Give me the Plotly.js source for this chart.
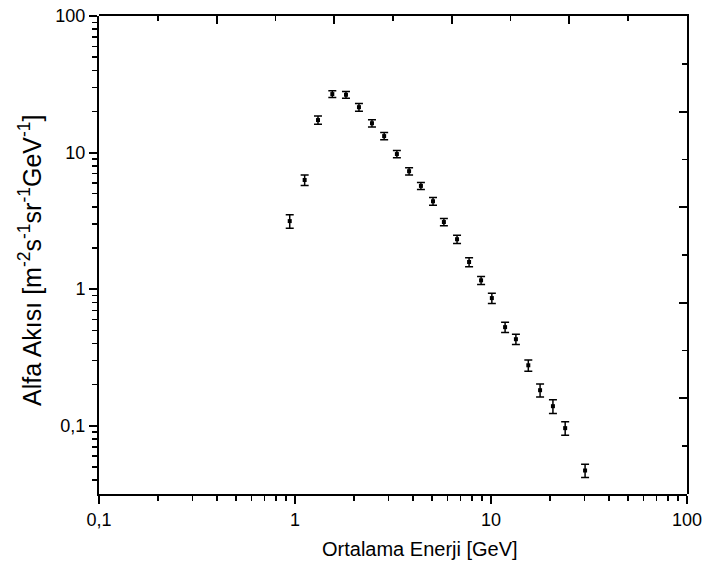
<!DOCTYPE html>
<html>
<head>
<meta charset="utf-8">
<script src="https://cdn.plot.ly/plotly-3.0.1.min.js"></script>
<style>html,body{margin:0;padding:0;background:#fff;}#chart{width:704px;height:571px;}</style>
</head>
<body>
<div id="chart"></div>
<script>
// Mean energy [GeV]
var energy = [0.94, 1.12, 1.31, 1.55, 1.82, 2.12, 2.47, 2.85, 3.31, 3.82, 4.39, 5.06, 5.75, 6.71, 7.73, 8.9, 10.1, 11.8, 13.4, 15.5, 17.8, 20.7, 23.9, 30.2];
// Alpha flux [m^-2 s^-1 sr^-1 GeV^-1]
var flux = [3.15, 6.3, 17.3, 26.8, 26.5, 21.5, 16.4, 13.2, 9.75, 7.3, 5.7, 4.4, 3.1, 2.32, 1.58, 1.16, 0.86, 0.527, 0.43, 0.277, 0.182, 0.139, 0.096, 0.047];
// Flux uncertainty
var fluxErr = [0.36, 0.55, 1.2, 1.5, 1.5, 1.4, 1.0, 0.8, 0.6, 0.44, 0.34, 0.28, 0.19, 0.16, 0.12, 0.08, 0.075, 0.046, 0.037, 0.026, 0.02, 0.016, 0.011, 0.0053];

var xTickVals = [0.1, 1, 10, 100];
var xTickText = ['0,1', '1', '10', '100'];
var yTickVals = [0.1, 1, 10, 100];
var yTickText = ['0,1', '1', '10', '100'];

var font = 'Liberation Sans, Arial, sans-serif';

var traces = [
  {
    x: energy, y: flux, type: 'scatter', mode: 'markers',
    marker: {symbol: 'square', size: 4, color: '#000'},
    error_y: {type: 'data', array: fluxErr, visible: true, color: '#000', thickness: 1.5, width: 4},
    showlegend: false, hoverinfo: 'x+y'
  },
  // empty helper trace so the frame axes (top / right) get drawn
  {x: [], y: [], xaxis: 'x2', yaxis: 'y2', type: 'scatter', mode: 'markers', showlegend: false}
];

var layout = {
  width: 704, height: 571,
  margin: {l: 99, r: 17, t: 16, b: 77},
  paper_bgcolor: '#fff', plot_bgcolor: 'rgba(0,0,0,0)',
  separators: ',.',
  font: {family: font, color: '#000'},
  showlegend: false,
  xaxis: {
    type: 'log', range: [-1, 2],
    tickmode: 'array', tickvals: xTickVals, ticktext: xTickText,
    ticks: 'outside', ticklen: 8, tickwidth: 2, tickcolor: '#000',
    minor: {ticks: 'outside', ticklen: 5, tickwidth: 1.5, tickcolor: '#000', dtick: 'D1', showgrid: false},
    showline: true, linecolor: '#000', linewidth: 2,
    showgrid: false, zeroline: false,
    tickfont: {size: 18, family: font}
  },
  yaxis: {
    type: 'log', range: [-1.5, 2],
    tickmode: 'array', tickvals: yTickVals, ticktext: yTickText,
    ticks: 'outside', ticklen: 8, tickwidth: 2, tickcolor: '#000',
    minor: {ticks: 'outside', ticklen: 5, tickwidth: 1.5, tickcolor: '#000', dtick: 'D1', showgrid: false},
    showline: true, linecolor: '#000', linewidth: 2,
    showgrid: false, zeroline: false,
    tickfont: {size: 18, family: font}
  },
  xaxis2: {
    side: 'top', anchor: 'y2', range: [0, 1], domain: [0, 1],
    tickmode: 'linear', tick0: 0, dtick: 0.2,
    ticks: 'inside', ticklen: 8, tickwidth: 2, tickcolor: '#000',
    minor: {tickmode: 'linear', tick0: 0, dtick: 0.1, ticks: 'inside', ticklen: 5, tickwidth: 1.5, tickcolor: '#000', showgrid: false},
    showticklabels: false, showline: true, linecolor: '#000', linewidth: 2,
    showgrid: false, zeroline: false, fixedrange: true
  },
  yaxis2: {
    side: 'right', anchor: 'x2', range: [0, 1], domain: [0, 1],
    tickmode: 'linear', tick0: 0, dtick: 0.2,
    ticks: 'inside', ticklen: 8, tickwidth: 2, tickcolor: '#000',
    minor: {tickmode: 'linear', tick0: 0, dtick: 0.1, ticks: 'inside', ticklen: 5, tickwidth: 1.5, tickcolor: '#000', showgrid: false},
    showticklabels: false, showline: true, linecolor: '#000', linewidth: 2,
    showgrid: false, zeroline: false, fixedrange: true
  },
  annotations: [
    {
      text: 'Ortalama Enerji [GeV]', xref: 'paper', yref: 'paper',
      x: 0.546, y: -0.115, xanchor: 'center', yanchor: 'middle', showarrow: false,
      font: {size: 20, family: font, color: '#000'}
    },
    {
      text: 'Alfa Akısı [m<sup>-2</sup>s<sup>-1</sup>sr<sup>-1</sup>GeV<sup>-1</sup>]', xref: 'paper', yref: 'paper',
      x: -0.117, y: 0.49, xanchor: 'center', yanchor: 'middle', textangle: -90, showarrow: false,
      font: {size: 25, family: font, color: '#000'}
    }
  ]
};

Plotly.newPlot('chart', traces, layout, {displayModeBar: false, staticPlot: true});
</script>
</body>
</html>
